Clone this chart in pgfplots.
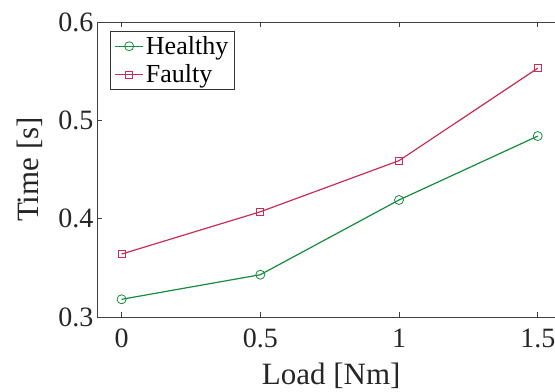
\documentclass[border=0pt]{standalone}
\usepackage{fontspec}
\setmainfont{Liberation Serif}
\usepackage{pgfplots}
\pgfplotsset{compat=1.18}
\definecolor{hgreen}{RGB}{20,140,60}
\definecolor{fred}{RGB}{200,45,85}
\definecolor{axgray}{RGB}{64,64,64}
\begin{document}
\begin{tikzpicture}
\begin{axis}[
  scale only axis,
  width=468.5bp, height=295bp,
  at={(97bp,75bp)}, anchor=south west,
  xmin=-0.0887, xmax=1.6, ymin=0.3, ymax=0.6,
  xtick={0,0.5,1,1.5}, ytick={0.3,0.4,0.5,0.6},
  /pgf/number format/assume math mode=true,
  yticklabel style={/pgf/number format/fixed,/pgf/number format/precision=1,/pgf/number format/fixed zerofill},
  tick label style={font=\fontsize{28bp}{30bp}\selectfont, text=black!85},
  xticklabel style={yshift=-8bp},
  label style={font=\fontsize{31bp}{33bp}\selectfont, text=black!85},
  xlabel={Load [Nm]}, ylabel={Time [s]},
  xlabel style={yshift=-9bp},
  ylabel style={yshift=9bp},
  tick align=inside, major tick length=5bp,
  axis line style={axgray, line width=0.9bp},
  every tick/.style={axgray, line width=0.8bp},
  legend style={at={(0.028,0.969)}, anchor=north west, draw=black!80, line width=0.6bp,
    font=\fontsize{26bp}{28bp}\selectfont, inner xsep=4bp, inner ysep=3bp, row sep=5bp},
  legend cell align=left,
  legend image code/.code={
    \draw[mark repeat=2,mark phase=2,#1] plot coordinates {(0cm,0cm) (0.5cm,0cm) (1cm,0cm)};
  },
]
\addplot[hgreen, line width=1.2bp, mark=o, mark size=4.5bp, mark options={line width=0.8bp}] coordinates {
  (0,0.318) (0.5,0.343) (1,0.419) (1.5,0.484)};
\addlegendentry{Healthy}
\addplot[fred, line width=1.2bp, mark=square, mark size=3.5bp, mark options={line width=0.8bp}] coordinates {
  (0,0.364) (0.5,0.407) (1,0.459) (1.5,0.553)};
\addlegendentry{Faulty}
\end{axis}
\pgfresetboundingbox
\useasboundingbox (0,0) rectangle (555bp,392bp);
\end{tikzpicture}
\end{document}
